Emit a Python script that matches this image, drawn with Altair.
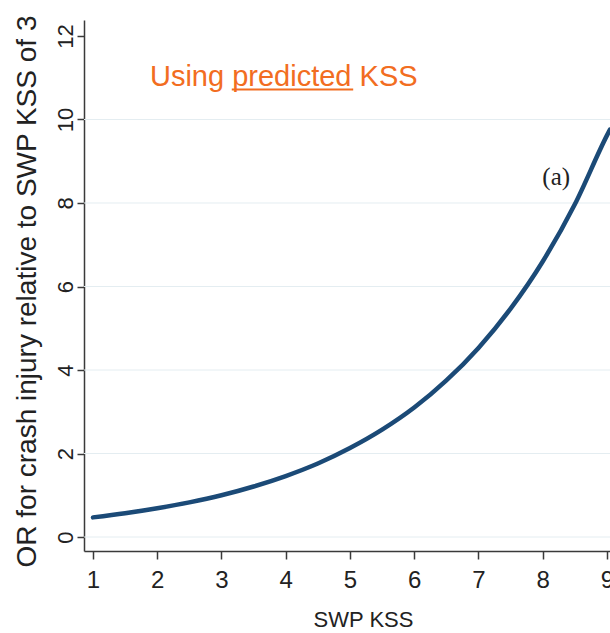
import altair as alt
import pandas as pd

# Curve values
kss = [1, 1.5, 2, 2.5, 3, 3.5, 4, 4.5, 5, 5.5, 6, 6.5, 7, 7.5, 8, 8.5, 9, 9.047]
odds = [0.47, 0.57, 0.69, 0.83, 1.00, 1.21, 1.46, 1.76, 2.13, 2.57, 3.10, 3.75,
        4.53, 5.47, 6.60, 7.97, 9.62, 9.76]

x_ticks = [1, 2, 3, 4, 5, 6, 7, 8, 9]
y_ticks = [0, 2, 4, 6, 8, 10, 12]
grid_vals = [0, 2, 4, 6, 8, 10]

x_domain = [0.86, 9.047]
y_domain = [-0.335, 12.383]

# annotations (data coordinates)
title_txt = ["Using predicted KSS"]
title_x = [1.887]
title_y = [10.80]
under_x = [3.16]
under_x2 = [5.05]
under_y = [10.72]
lab_txt = ["(a)"]
lab_x = [8.21]
lab_y = [8.62]

curve = pd.DataFrame({"kss": kss, "odds": odds})
grid = pd.DataFrame({"odds": grid_vals})
tdf = pd.DataFrame({"t": title_txt, "x": title_x, "y": title_y})
udf = pd.DataFrame({"x": under_x, "x2": under_x2, "y": under_y})
ldf = pd.DataFrame({"t": lab_txt, "x": lab_x, "y": lab_y})

xs = alt.Scale(domain=x_domain, nice=False, zero=False)
ys = alt.Scale(domain=y_domain, nice=False, zero=False)

yaxis = alt.Axis(
    values=y_ticks, title="OR for crash injury relative to SWP KSS of 3", grid=False,
    domainColor="#3a3a3a", domainWidth=1.5, tickColor="#3a3a3a", tickWidth=1.5,
    tickSize=7, labelPadding=5, labelAngle=-90, labelAlign="center",
    labelBaseline="alphabetic", labelFont="Liberation Sans", labelFontSize=22,
    labelColor="#222222", labelFlush=False, labelOverlap=False, format="d",
    titleFont="Liberation Sans", titleFontSize=28, titleFontWeight="normal",
    titleColor="#222222", titleAngle=-90, titleX=-57, titleY=271,
    titleAlign="center", titleBaseline="middle")

xaxis = alt.Axis(
    values=x_ticks, title="SWP KSS", grid=False, format="d",
    domainColor="#3a3a3a", domainWidth=1.5, tickColor="#3a3a3a", tickWidth=1.5,
    tickSize=8, labelPadding=9, labelFont="Liberation Sans",
    labelFontSize=24, labelColor="#222222", labelBaseline="top",
    labelFlush=False, labelOverlap=False,
    titleFont="Liberation Sans", titleFontSize=22, titleFontWeight="normal",
    titleColor="#222222", titleX=279, titleY=68, titleBaseline="middle",
    titleAlign="center")

gridlayer = alt.Chart(grid).mark_rule(color="#e4edf1", strokeWidth=1).encode(
    y=alt.Y("odds:Q", scale=ys, axis=yaxis)
)

line = alt.Chart(curve).mark_line(
    color="#1b4a77", strokeWidth=4.5, interpolate="monotone", strokeCap="round"
).encode(
    x=alt.X("kss:Q", scale=xs, axis=xaxis),
    y=alt.Y("odds:Q", scale=ys, axis=yaxis),
)

title = alt.Chart(tdf).mark_text(
    align="left", baseline="alphabetic", font="Liberation Sans", fontSize=29,
    color="#f26d21"
).encode(x=alt.X("x:Q", scale=xs), y=alt.Y("y:Q", scale=ys), text="t:N")

underline = alt.Chart(udf).mark_rule(color="#f26d21", strokeWidth=2).encode(
    x=alt.X("x:Q", scale=xs), x2="x2:Q", y=alt.Y("y:Q", scale=ys)
)

lab = alt.Chart(ldf).mark_text(
    align="center", baseline="middle", font="Liberation Serif", fontSize=25,
    color="#222222"
).encode(x=alt.X("x:Q", scale=xs), y=alt.Y("y:Q", scale=ys), text="t:N")

chart = alt.layer(gridlayer, line, title, underline, lab).properties(
    width=526, height=531,
    autosize=alt.AutoSizeParams(type="none"),
    padding={"left": 84, "top": 20, "right": 0, "bottom": 82},
    background="white",
).configure_view(stroke=None)

chart.save("out.html", embed_options={"renderer": "svg", "actions": False})
